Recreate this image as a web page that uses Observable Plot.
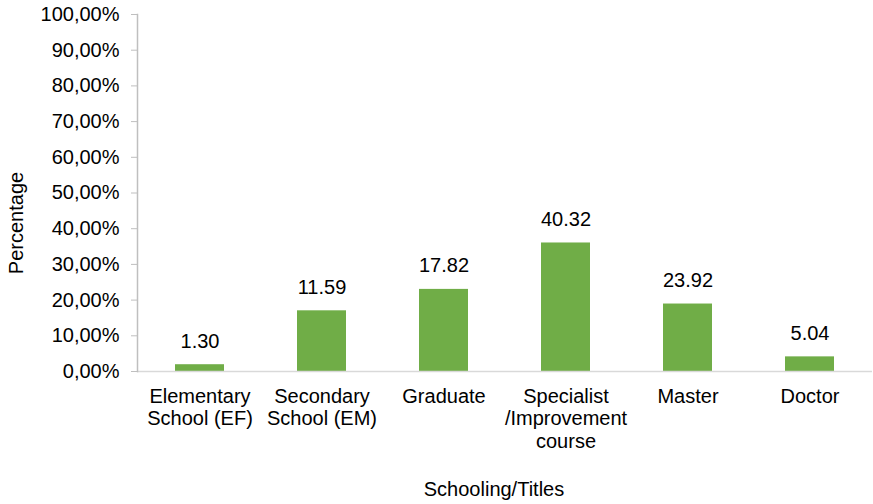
<!DOCTYPE html>
<html>
<head>
<meta charset="utf-8">
<script src="https://cdn.jsdelivr.net/npm/d3@7"></script>
<script src="https://cdn.jsdelivr.net/npm/@observablehq/plot@0.6"></script>
<style>
  html, body { margin: 0; padding: 0; background: #fff; }
  #chart { width: 873px; height: 504px; }
</style>
</head>
<body>
<div id="chart"></div>
<script>
const categories = ["Elementary School (EF)", "Secondary School (EM)", "Graduate", "Specialist /Improvement course", "Master", "Doctor"];
const tickLabels = ["Elementary\nSchool (EF)", "Secondary\nSchool (EM)", "Graduate", "Specialist\n/Improvement\ncourse", "Master", "Doctor"];
const barHeights = [1.9, 17.0, 23.0, 36.0, 18.9, 4.1];
const valueLabels = ["1.30", "11.59", "17.82", "40.32", "23.92", "5.04"];
const yTicks = [0, 10, 20, 30, 40, 50, 60, 70, 80, 90, 100];
const yTitle = "Percentage";
const xTitle = "Schooling/Titles";

const data = categories.map((c, i) => ({category: c, value: barHeights[i], label: valueLabels[i]}));
const fmtY = d => d.toFixed(2).replace(".", ",") + "%";

const chart = Plot.plot({
  width: 873,
  height: 504,
  marginLeft: 137,
  marginRight: 1,
  marginTop: 14,
  marginBottom: 133,
  style: {fontFamily: "'Liberation Sans', Arial, sans-serif", fontSize: "20px", color: "#000", background: "#fff"},
  x: {domain: categories, paddingInner: 0.6, paddingOuter: 0.3, label: null},
  y: {domain: [0, 100], label: null},
  marks: [
    Plot.barY(data, {x: "category", y: "value", fill: "#70ad47"}),
    Plot.ruleY([0], {stroke: "#d9d9d9", strokeWidth: 1.5}),
    Plot.frame({anchor: "left", stroke: "#bfbfbf", strokeWidth: 1.5}),
    Plot.axisY({ticks: yTicks, tickSize: 6, tickPadding: 12, stroke: "#bfbfbf", fill: "#000", tickFormat: fmtY, label: null, fontSize: 20}),
    Plot.axisX({tickSize: 0, tickPadding: 15, fill: "#000", lineHeight: 1.13, fontSize: 20, label: null,
      tickFormat: d => tickLabels[categories.indexOf(d)]}),
    Plot.text(data, {x: "category", y: "value", text: "label", lineAnchor: "bottom", dy: -17, fill: "#000", fontSize: 20}),
    Plot.text([yTitle], {frameAnchor: "left", rotate: -90, textAnchor: "middle", lineAnchor: "bottom", dx: -115, dy: 30, fill: "#000", fontSize: 20}),
    Plot.text([xTitle], {frameAnchor: "bottom", textAnchor: "middle", lineAnchor: "bottom", dx: -11, dy: 124, fill: "#000", fontSize: 20})
  ]
});
document.getElementById("chart").appendChild(chart);
</script>
</body>
</html>
